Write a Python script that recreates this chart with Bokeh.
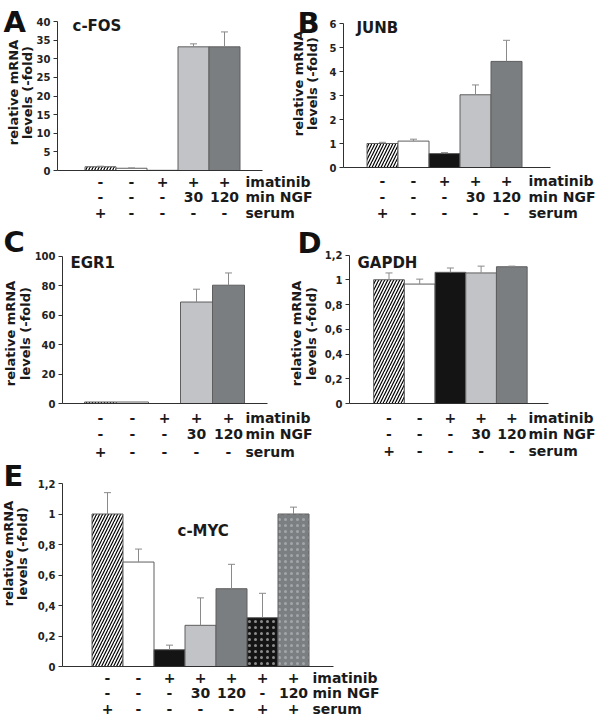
import math
from bokeh.plotting import figure
from bokeh.models import (Range1d, LinearAxis, FixedTicker, ColumnDataSource,
                          Whisker, TeeHead, CustomJSTickFormatter)
from bokeh.core.properties import value
from bokeh.embed import file_html
from bokeh.resources import INLINE

# ---------------- data ----------------
imatinib_row = ["-", "-", "+", "+", "+", "+", "+"]
ngf_row = ["-", "-", "-", "30", "120", "-", "120"]
serum_row = ["+", "-", "-", "-", "-", "+", "+"]
row_names = ["imatinib", "min NGF", "serum"]

cfos_mean = [1.0, 0.6, 0.05, 33.2, 33.2]
cfos_sd = [0.15, 0.1, 0.0, 0.8, 4.0]
junb_mean = [1.0, 1.1, 0.58, 3.03, 4.42]
junb_sd = [0.05, 0.08, 0.04, 0.41, 0.88]
egr1_mean = [1.0, 1.0, 0.0, 68.8, 80.2]
egr1_sd = [0.0, 0.0, 0.0, 8.7, 8.3]
gapdh_mean = [1.0, 0.965, 1.06, 1.055, 1.105]
gapdh_sd = [0.055, 0.04, 0.035, 0.055, 0.005]
cmyc_mean = [1.0, 0.685, 0.11, 0.27, 0.51, 0.32, 1.0]
cmyc_sd = [0.14, 0.085, 0.03, 0.18, 0.16, 0.16, 0.045]

ticks_cfos = [0, 5, 10, 15, 20, 25, 30, 35, 40]
ticks_junb = [0, 1, 2, 3, 4, 5, 6]
ticks_egr1 = [0, 20, 40, 60, 80, 100]
ticks_ratio = [0, 0.2, 0.4, 0.6, 0.8, 1.0, 1.2]

# ---------------- styles ----------------
FONT = "DejaVu Sans"
# one style per condition (serum, control, imatinib, +NGF30, +NGF120, +serum, +NGF120+serum)
BAR_FILL = ["white", "white", "#141414", "#c2c3c6", "#7b7e81", "#141414", "#7c7f82"]
BAR_HATCH = ["/", " ", " ", " ", " ", ".", "."]
BAR_HATCH_COLOR = ["black", "black", "black", "black", "black", "#8c8c8c", "#a3a6a9"]
BAR_HATCH_SCALE = [6, 6, 6, 6, 6, 6, 6]
OUTLINE = "#5e5e5e"
ERR_COLOR = "#8a8a8a"
AXIS_COLOR = "#303030"

W, H = 598, 716
PX0, PX1, PY0, PY1 = 0, 598, 0, 716  # page pixel coordinates covered by the figure

p = figure(width=W, height=H, x_range=Range1d(PX0, PX1), y_range=Range1d(PY1, PY0),
           output_backend="svg", toolbar_location=None, x_axis_location=None,
           y_axis_location=None, min_border=0, outline_line_color=None,
           background_fill_color="white", border_fill_color="white", title=None)
p.grid.grid_line_color = None

panels = [
    dict(key="A", title="c-FOS", mean=cfos_mean, sd=cfos_sd, ticks=ticks_cfos,
         c0=100, slot=31, y0=170, ytop=21, axis_x=57, axis_end=262,
         rows_y=[181, 196, 212], rowlab_x=245, letter=(3, 21), title_pos=(72, 25),
         ylab_x=(13, 27), ylab_y=92),
    dict(key="B", title="JUNB", mean=junb_mean, sd=junb_sd, ticks=ticks_junb,
         c0=382, slot=31, y0=167, ytop=23, axis_x=343, axis_end=550,
         rows_y=[180, 196, 212], rowlab_x=528, letter=(297, 22), title_pos=(356, 27),
         ylab_x=(298, 312), ylab_y=83),
    dict(key="C", title="EGR1", mean=egr1_mean, sd=egr1_sd, ticks=ticks_egr1,
         c0=100, slot=32, y0=403, ytop=255.5, axis_x=62, axis_end=267,
         rows_y=[417, 433, 451], rowlab_x=245, letter=(3, 241), title_pos=(70, 262),
         ylab_x=(10, 25), ylab_y=333),
    dict(key="D", title="GAPDH", mean=gapdh_mean, sd=gapdh_sd, ticks=ticks_ratio,
         c0=388.5, slot=30.7, y0=403, ytop=254.5, axis_x=349, axis_end=548,
         rows_y=[417, 433, 450], rowlab_x=528, letter=(297, 242), title_pos=(357, 262),
         ylab_x=(296, 311), ylab_y=333),
    dict(key="E", title="c-MYC", mean=cmyc_mean, sd=cmyc_sd, ticks=ticks_ratio,
         c0=107, slot=31, y0=666, ytop=483, axis_x=62, axis_end=333,
         rows_y=[677, 692, 708], rowlab_x=312, letter=(3, 475), title_pos=(177, 530),
         ylab_x=(8, 22), ylab_y=553),
]

fmt = CustomJSTickFormatter(code="return (Math.round(tick*10)/10).toString().replace('.', ',');")

for pn in panels:
    k = pn["key"]
    n = len(pn["mean"])
    ymax = pn["ticks"][-1]
    xr, yr = k + "_x", k + "_y"
    slot, c0 = pn["slot"], pn["c0"]
    kpx = (pn["y0"] - pn["ytop"]) / ymax
    p.extra_x_ranges[xr] = Range1d((PX0 - c0) / slot, (PX1 - c0) / slot)
    p.extra_y_ranges[yr] = Range1d((pn["y0"] - PY1) / kpx, (pn["y0"] - PY0) / kpx)

    xs = list(range(n))
    src = ColumnDataSource(dict(
        x=xs, top=pn["mean"],
        fill=BAR_FILL[:n], hatch=BAR_HATCH[:n], hcol=BAR_HATCH_COLOR[:n],
        hscale=BAR_HATCH_SCALE[:n]))
    p.vbar(x="x", top="top", bottom=0, width=1, source=src, fill_color="fill",
           hatch_pattern="hatch", hatch_color="hcol", hatch_scale="hscale",
           hatch_weight=1.2, line_color=OUTLINE, line_width=1,
           x_range_name=xr, y_range_name=yr)

    ex = [x for x, s in zip(xs, pn["sd"]) if s > 0]
    el = [m for m, s in zip(pn["mean"], pn["sd"]) if s > 0]
    eu = [m + s for m, s in zip(pn["mean"], pn["sd"]) if s > 0]
    esrc = ColumnDataSource(dict(x=ex, lower=el, upper=eu))
    w = Whisker(source=esrc, base="x", lower="lower", upper="upper", dimension="height",
                line_color=ERR_COLOR, line_width=1, lower_head=None,
                upper_head=TeeHead(size=7, line_color=ERR_COLOR, line_width=1),
                x_range_name=xr, y_range_name=yr, level="overlay")
    p.add_layout(w)

    # y axis
    ax_x = (pn["axis_x"] - c0) / slot
    yaxis = LinearAxis(x_range_name=xr, y_range_name=yr, fixed_location=ax_x,
                       bounds=(0, ymax), ticker=FixedTicker(ticks=pn["ticks"]),
                       formatter=fmt,
                       axis_line_color=AXIS_COLOR, major_tick_line_color=AXIS_COLOR,
                       major_tick_out=4, major_tick_in=0, minor_tick_line_color=None,
                       major_label_text_font=FONT, major_label_text_font_style="bold",
                       major_label_text_font_size="10px", major_label_text_color="#222222",
                       major_label_standoff=3)
    p.add_layout(yaxis, "left")
    # x axis (baseline)
    xaxis = LinearAxis(x_range_name=xr, y_range_name=yr, fixed_location=0,
                       bounds=(ax_x, (pn["axis_end"] - c0) / slot),
                       ticker=FixedTicker(ticks=[]), axis_line_color=AXIS_COLOR,
                       major_tick_line_color=None, minor_tick_line_color=None,
                       major_label_text_font_size="0px")
    p.add_layout(xaxis, "below")

    # condition rows under the bars
    for row, ry in zip([imatinib_row, ngf_row, serum_row], pn["rows_y"]):
        p.text(x=xs, y=[ry] * n, text=row[:n], text_font=value(FONT),
               text_font_style="bold", text_font_size="14px", text_align="center",
               text_baseline="middle", text_color="#1a1a1a", x_range_name=xr)
    p.text(x=[pn["rowlab_x"]] * 3, y=pn["rows_y"], text=row_names, text_font=value(FONT),
           text_font_style="bold", text_font_size="14px", text_align="left",
           text_baseline="middle", text_color="#1a1a1a")

    # panel letter, title, y label
    p.text(x=[pn["letter"][0]], y=[pn["letter"][1]], text=[k], text_font=value(FONT),
           text_font_style="bold", text_font_size="29px", text_align="left",
           text_baseline="middle", text_color="#111111")
    p.text(x=[pn["title_pos"][0]], y=[pn["title_pos"][1]], text=[pn["title"]],
           text_font=value(FONT), text_font_style="bold", text_font_size="15px",
           text_align="left", text_baseline="middle", text_color="#1a1a1a")
    p.text(x=list(pn["ylab_x"]), y=[pn["ylab_y"]] * 2,
           text=["relative mRNA", "levels (-fold)"], angle=math.pi / 2,
           text_font=value(FONT), text_font_style="bold", text_font_size="13px",
           text_align="center", text_baseline="middle", text_color="#1a1a1a")

open("out.html", "w").write(file_html(p, INLINE))
